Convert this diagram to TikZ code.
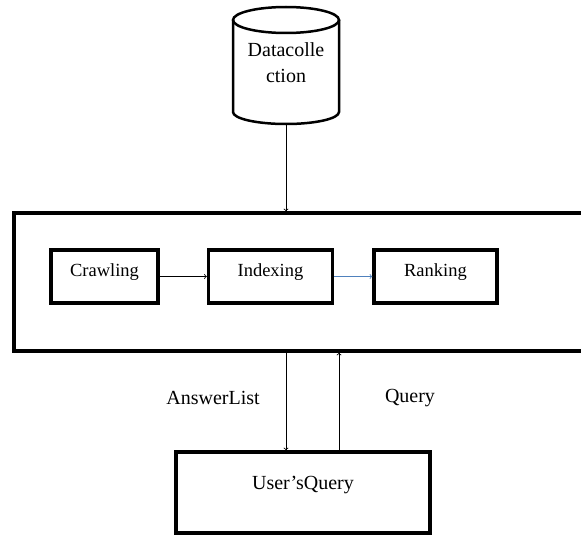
\documentclass[tikz,border=0pt]{standalone}
\usepackage{fontspec}
\setmainfont{Liberation Serif}
\usetikzlibrary{positioning}
\usetikzlibrary{arrows}
\definecolor{officeblue}{RGB}{79,129,189}
\tikzset{stage/.style={rectangle,draw=black,line width=3.5pt,fill=white,
minimum height=53pt, inner sep=1pt, text depth=12pt, font=\fontsize{18.5}{20}\selectfont},
frame/.style={rectangle,draw=black,line width=3.5pt,inner sep=0pt},
can/.style={draw=black,line width=2.5pt},
lbl/.style={rectangle, inner sep=0pt, font=\fontsize{20}{26}\selectfont},
-/.style={color=black, line width=0.8pt},
>={to}}

\begin{document}
\begin{tikzpicture}[x=1pt,y=-1pt]
  \useasboundingbox (0,0) rectangle (581,535);
  % data store
  \draw [can] (233,20) -- (233,112) arc [start angle=180,end angle=360,x radius=53pt,y radius=12pt] -- (339,20);
  \draw [can] (286,20) ellipse [x radius=53pt,y radius=13pt];
  \coordinate (databot) at (286,124);
  \node (datatext) [lbl,align=center] at (286,63) {Datacolle\\ction};

  \node (engine) [frame,minimum width=576pt,minimum height=138pt] at (302,282) {};
  \node (crawl) [stage,minimum width=107pt] at (104.5,276.5) {Crawling};
  \node (index) [stage,minimum width=124pt] at (270.5,276.5) {Indexing};
  \node (rank) [stage,minimum width=123pt] at (435.5,276.5) {Ranking};
  \node (user) [stage,minimum width=254pt,minimum height=81pt,text depth=19pt,
    font=\fontsize{20}{22}\selectfont] at (303,492.5) {User'sQuery};

  \draw [->,-] (databot) -- (databot |- engine.north);
  \draw [->,-] (crawl) -- (index);
  \draw [->,-,color=officeblue] (index) -- (rank);
  \draw [->,-] (engine.south -| databot) -- (user.north -| databot);
  \draw [->,-] ([xshift=36pt]user.north) -- ([xshift=36pt]user.north |- engine.south);

  \node (answer) [lbl] at (213,398) {AnswerList};
  \node (query) [lbl] at (410,398) {Query};
\end{tikzpicture}
\end{document}
